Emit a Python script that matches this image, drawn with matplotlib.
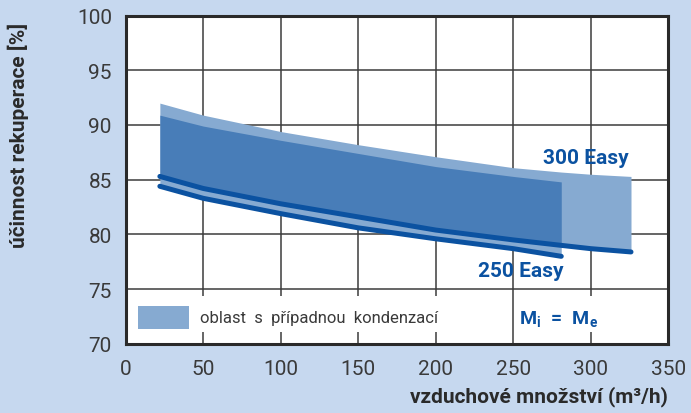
import matplotlib
matplotlib.use("Agg")
import matplotlib.pyplot as plt
from matplotlib.patches import Rectangle

# 300 Easy: condensation band (top) and M_i = M_e line (bottom)
x_300 = [22, 50, 100, 150, 200, 250, 281, 300, 326]
top_300 = [92.0, 90.9, 89.4, 88.2, 87.1, 86.1, 85.7, 85.5, 85.3]
line_300 = [85.3, 84.2, 82.8, 81.6, 80.4, 79.5, 79.0, 78.7, 78.4]

# 250 Easy
x_250 = [22, 50, 100, 150, 200, 250, 281]
top_250 = [90.9, 89.9, 88.6, 87.4, 86.2, 85.3, 84.8]
line_250 = [84.4, 83.3, 81.9, 80.6, 79.6, 78.7, 78.0]

x_ticks = [0, 50, 100, 150, 200, 250, 300, 350]
y_ticks = [70, 75, 80, 85, 90, 95, 100]

bg = "#c6d8ef"
light = "#86aad1"
dark = "#487db8"
line_c = "#0b52a1"
text_c = "#3a3a3a"

plt.rcParams["font.family"] = ["Roboto", "DejaVu Sans"]
plt.rcParams["mathtext.fontset"] = "custom"
plt.rcParams["mathtext.rm"] = "Roboto"
plt.rcParams["mathtext.bf"] = "Roboto:bold"

fig = plt.figure(figsize=(6.91, 4.14), dpi=100, facecolor=bg)
ax = fig.add_axes([0.182, 0.167, 0.785, 0.793])
ax.set_xlim(0, 350)
ax.set_ylim(70, 100)

n = len(x_250)
ax.fill_between(x_300, line_300, top_300, color=light, lw=0, zorder=2)
ax.fill_between(x_250, line_250, line_300[:n], color=light, lw=0, zorder=2)
ax.fill_between(x_250, line_300[:n], top_250, color=dark, lw=0, zorder=2)

ax.plot(x_300, line_300, color=line_c, lw=3.6, solid_capstyle="round", zorder=4)
ax.plot(x_250, line_250, color=line_c, lw=3.6, solid_capstyle="round", zorder=4)

ax.text(296.7, 86.5, "300 Easy", color=line_c, fontsize=15, fontweight="bold",
        ha="center", va="baseline", zorder=5)
ax.text(254.7, 76.2, "250 Easy", color=line_c, fontsize=15, fontweight="bold",
        ha="center", va="baseline", zorder=5)

# legend area
ax.add_patch(Rectangle((3, 71.1), 206, 3.3, facecolor="white", edgecolor="none", zorder=3))
ax.add_patch(Rectangle((253, 71.1), 55, 3.3, facecolor="white", edgecolor="none", zorder=3))
ax.add_patch(Rectangle((8, 71.4), 33, 2.1, facecolor=light, edgecolor="none", zorder=4))
ax.text(48, 72.45, "oblast  s  případnou  kondenzací", color=text_c, fontsize=12,
        ha="left", va="center", zorder=5)
ax.text(279.5, 72.4, r"$\mathbf{M_i\ =\ M_e}$", color=line_c, fontsize=14,
        ha="center", va="center", zorder=5)

ax.set_xticks(x_ticks)
ax.set_yticks(y_ticks)
ax.tick_params(length=0, labelsize=15, labelcolor=text_c)
ax.tick_params(axis="x", pad=11)
ax.tick_params(axis="y", pad=10)
ax.grid(True, color="#3c3c3c", lw=1.1, zorder=1)
ax.set_axisbelow(True)
for s in ax.spines.values():
    s.set_linewidth(2.2)
    s.set_color("#2a2a2a")
    s.set_zorder(6)

fig.text(668 / 691, 0.027, "vzduchové množství (m³/h)", color="#2a2a2a",
         fontsize=15, fontweight="bold", ha="right", va="baseline")
fig.text(0.027, 0.672, "účinnost rekuperace [%]", color="#2a2a2a",
         fontsize=15, fontweight="bold", rotation=90, ha="center", va="center")

fig.savefig("out.png", dpi=100, facecolor=bg)
